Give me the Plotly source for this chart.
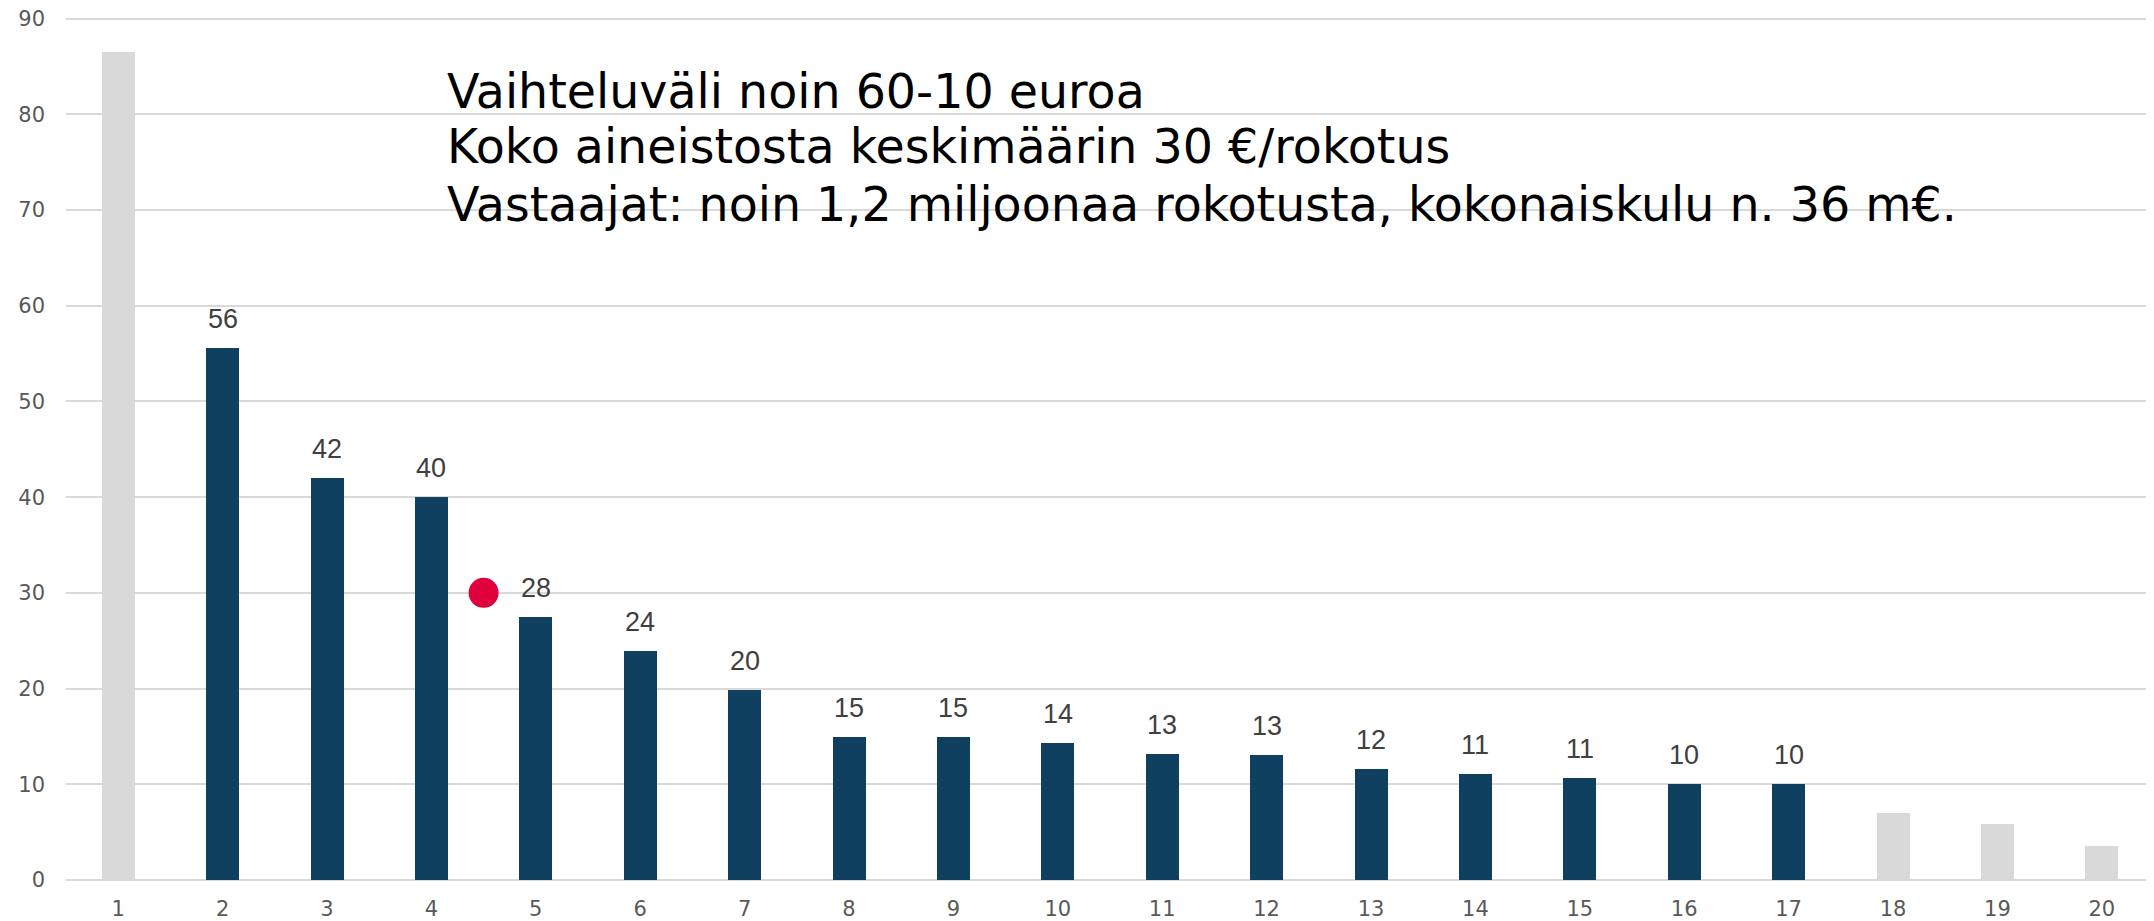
import plotly.graph_objects as go

categories = list(range(1, 21))
values = [86.5, 55.6, 42.0, 40.0, 27.5, 23.9, 19.9, 14.9, 14.9, 14.3,
          13.2, 13.1, 11.6, 11.1, 10.7, 10.0, 10.0, 7.0, 5.9, 3.6]
bar_labels = ["", "56", "42", "40", "28", "24", "20", "15", "15", "14",
              "13", "13", "12", "11", "11", "10", "10", "", "", ""]
excluded = [1, 18, 19, 20]
marker_x = [4.5]
marker_y = [30]
y_ticks = [0, 10, 20, 30, 40, 50, 60, 70, 80, 90]
text_lines = [
    "Vaihteluväli noin 60-10 euroa",
    "Koko aineistosta keskimäärin 30 €/rokotus",
    "Vastaajat: noin 1,2 miljoonaa rokotusta, kokonaiskulu n. 36 m€.",
]

NAVY = "#10405F"
GRAY = "#D9D9D9"
colors = [GRAY if c in excluded else NAVY for c in categories]

fig = go.Figure()
fig.add_trace(go.Bar(x=categories, y=values, marker=dict(color=colors, line=dict(width=0)),
                     width=0.316, hoverinfo="skip"))
fig.add_trace(go.Scatter(x=marker_x, y=marker_y, mode="markers",
                         marker=dict(size=30, color="#E0003C"), hoverinfo="skip"))

annotations = []
for c, v, t in zip(categories, values, bar_labels):
    if t:
        annotations.append(dict(x=c, y=v, xref="x", yref="y", text=t, showarrow=False,
                                yanchor="bottom", yshift=12,
                                font=dict(family="Liberation Sans, Arial", size=27, color="#404040")))

line_y = [82.4, 76.6, 70.6]
for t, yy in zip(text_lines, line_y):
    annotations.append(dict(x=0.1815, y=yy, xref="paper", yref="y", text=t, showarrow=False,
                            xanchor="left", yanchor="middle",
                            font=dict(family="DejaVu Sans", size=47.5, color="#000000")))

fig.update_layout(
    width=2146, height=913,
    margin=dict(l=58, r=0, t=2, b=41),
    paper_bgcolor="white", plot_bgcolor="white",
    showlegend=False, bargap=0,
    annotations=annotations,
    shapes=[dict(type="rect", xref="paper", yref="y", x0=0.1729, x1=0.977, y0=66, y1=88,
                 fillcolor="white", line=dict(width=0), layer="between")],
    xaxis=dict(range=[0.5, 20.5], tickvals=categories, ticktext=[str(c) for c in categories],
               showgrid=False, zeroline=False, showline=False, ticks="",
               tickfont=dict(family="DejaVu Sans", size=21, color="#595959"),
               ticklabelstandoff=14, ticklabeloverflow="allow"),
    yaxis=dict(range=[0, 90.9], tickvals=y_ticks, showgrid=True, gridcolor=GRAY, gridwidth=1.5,
               zeroline=True, zerolinecolor=GRAY, zerolinewidth=1.5, showline=False, ticks="",
               tickfont=dict(family="DejaVu Sans", size=21, color="#595959"),
               ticklabelstandoff=20, ticklabeloverflow="allow"),
)

fig.write_html("out.html")
